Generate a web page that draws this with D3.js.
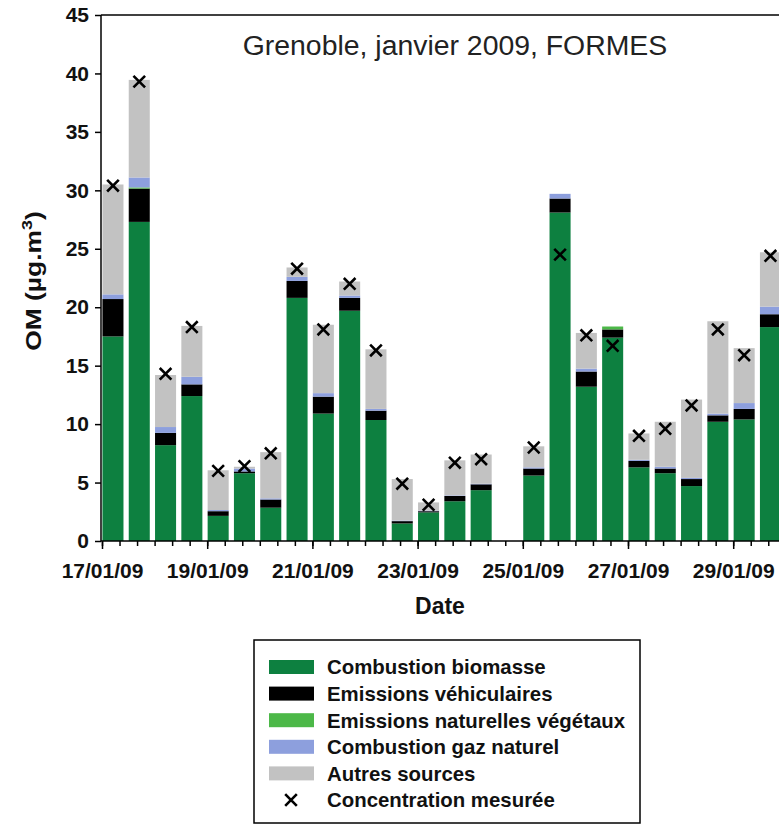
<!DOCTYPE html>
<html>
<head>
<meta charset="utf-8">
<script src="https://cdn.jsdelivr.net/npm/d3@7"></script>
<style>
  html, body { margin: 0; padding: 0; background: #fff; }
  svg { display: block; font-family: "Liberation Sans", Arial, sans-serif; }
  svg text { font-family: "Liberation Sans", Arial, sans-serif; }
</style>
</head>
<body>
<svg id="chart" width="779" height="825"></svg>
<script>
// ---- data (OM, µg.m-3), one sample every 12 h starting 17/01/09 ~05:00 ----
const sampleStart = Date.UTC(2009, 0, 17, 5);
const sampleCount = 26;
const biomasse = [17.5, 27.3, 8.2, 12.4, 2.15, 5.8, 2.85, 20.8, 10.9, 19.7, 10.35, 1.5, 2.45, 3.4, 4.35, null, 5.6, 28.1, 13.2, 17.4, 6.3, 5.8, 4.7, 10.2, 10.4, 18.3];
const vehiculaires = [3.2, 2.85, 1.05, 1.0, 0.4, 0.15, 0.7, 1.45, 1.45, 1.1, 0.8, 0.2, 0.1, 0.45, 0.5, null, 0.6, 1.2, 1.3, 0.7, 0.55, 0.4, 0.6, 0.55, 0.9, 1.1];
const vegetaux = [0, 0.1, 0, 0, 0, 0, 0, 0, 0, 0, 0, 0, 0, 0, 0, null, 0, 0, 0, 0.25, 0, 0, 0, 0, 0, 0];
const gazNaturel = [0.4, 0.85, 0.5, 0.65, 0.1, 0.25, 0.1, 0.35, 0.3, 0.2, 0.15, 0.05, 0.05, 0.05, 0.05, null, 0.1, 0.4, 0.25, 0, 0.1, 0.15, 0.1, 0.15, 0.5, 0.65];
const autres = [9.4, 8.35, 4.45, 4.35, 3.4, 0.15, 3.95, 0.8, 5.85, 1.2, 5.1, 3.55, 0.7, 3.0, 2.5, null, 1.8, 0, 3.05, 0, 2.25, 3.85, 6.7, 7.9, 4.7, 4.65];
const mesuree = [30.4, 39.3, 14.3, 18.3, 6.0, 6.4, 7.5, 23.3, 18.1, 22.0, 16.3, 4.9, 3.1, 6.7, 7.0, null, 8.0, 24.5, 17.6, 16.7, 9.0, 9.6, 11.6, 18.1, 15.9, 24.4];

const seriesNames = ["Combustion biomasse", "Emissions véhiculaires", "Emissions naturelles végétaux", "Combustion gaz naturel", "Autres sources"];
const seriesColors = ["#0d8040", "#000000", "#4cb848", "#8d9fdd", "#c2c2c2"];
const markerName = "Concentration mesurée";
const yTicks = [0, 5, 10, 15, 20, 25, 30, 35, 40, 45];
const xTickDays = [17, 19, 21, 23, 25, 27, 29];
const title = "Grenoble, janvier 2009, FORMES";
const xTitle = "Date";

// ---- build table ----
const HOUR = 3600 * 1000;
const seriesArrays = [biomasse, vehiculaires, vegetaux, gazNaturel, autres];
const rows = d3.range(sampleCount).map(i => {
  const r = { t: new Date(sampleStart + i * 12 * HOUR), i };
  seriesArrays.forEach((a, k) => r["s" + k] = a[i] == null ? 0 : a[i]);
  r.valid = biomasse[i] != null;
  r.m = mesuree[i];
  return r;
});

const FONT = "'Liberation Sans', Arial, sans-serif";
const svg = d3.select("#chart");
const x0 = 102, y0 = 541, yTop = 15;
const dayPx = 52.6;
const x = d3.scaleUtc()
  .domain([new Date(Date.UTC(2009, 0, 17)), new Date(Date.UTC(2009, 0, 31))])
  .range([x0, x0 + 14 * dayPx]);
const y = d3.scaleLinear().domain([0, 45]).range([y0, yTop]);
const barW = (x(new Date(sampleStart + 12 * HOUR)) - x(new Date(sampleStart))) * 0.8;

// stacked bars
const stack = d3.stack().keys(seriesArrays.map((_, k) => "s" + k));
const stacked = stack(rows.filter(r => r.valid));
svg.append("g").selectAll("g").data(stacked).join("g")
  .attr("fill", (d, k) => seriesColors[k])
  .selectAll("rect").data(d => d).join("rect")
  .attr("x", d => x(d.data.t) - barW / 2)
  .attr("width", barW)
  .attr("y", d => y(d[1]))
  .attr("height", d => Math.max(0, y(d[0]) - y(d[1])));

// frame: top line
svg.append("line").attr("x1", x0 - 1).attr("x2", 779).attr("y1", yTop).attr("y2", yTop)
  .attr("stroke", "#000").attr("stroke-width", 1.5);

// y axis
const yAxis = svg.append("g").attr("transform", `translate(${x0 - 1},0)`)
  .call(d3.axisLeft(y).tickValues(yTicks).tickSize(6).tickPadding(6));
yAxis.select(".domain").attr("stroke-width", 1.5).attr("d", `M0,${y0}V${yTop}`);
yAxis.selectAll(".tick line").attr("stroke-width", 1.5);
yAxis.selectAll("text").attr("font-size", 21).attr("font-weight", "bold")
  .attr("font-family", FONT).attr("fill", "#111");

// x axis: minor ticks every 8 h, major every 2 days
const xAxisMinor = svg.append("g").attr("transform", `translate(0,${y0})`)
  .call(d3.axisBottom(x).ticks(d3.utcHour.every(8)).tickSize(5).tickFormat(""));
xAxisMinor.select(".domain").attr("stroke-width", 1.5).attr("d", `M${x0 - 1},0H800`);
xAxisMinor.selectAll(".tick line").attr("stroke-width", 1.5);
const xAxisMajor = svg.append("g").attr("transform", `translate(0,${y0})`)
  .call(d3.axisBottom(x).tickValues(xTickDays.map(d => new Date(Date.UTC(2009, 0, d))))
    .tickSize(8).tickPadding(14).tickFormat(d3.utcFormat("%d/%m/%y")));
xAxisMajor.select(".domain").remove();
xAxisMajor.selectAll(".tick line").attr("stroke-width", 1.5);
xAxisMajor.selectAll("text").attr("font-size", 21).attr("font-weight", "bold")
  .attr("font-family", FONT).attr("fill", "#111");

// measured concentration markers
const xSym = d3.symbolX || d3.symbolCross;
svg.append("g").selectAll("path").data(rows.filter(r => r.m != null)).join("path")
  .attr("transform", d => `translate(${x(d.t)},${y(d.m)})` + (d3.symbolX ? "" : " rotate(45)"))
  .attr("d", d3.symbol(xSym, 90))
  .attr("fill", "none").attr("stroke", "#000").attr("stroke-width", 2.6);

// title
svg.append("text").attr("x", 455).attr("y", 55).attr("text-anchor", "middle")
  .attr("font-family", FONT).attr("font-size", 28.4).attr("fill", "#222").text(title);

// axis titles
svg.append("text").attr("x", 440).attr("y", 614).attr("text-anchor", "middle")
  .attr("font-family", FONT).attr("font-size", 23).attr("font-weight", "bold").attr("fill", "#111").text(xTitle);
const yl = svg.append("text").attr("transform", "translate(41,281) rotate(-90) scale(1.2,1)")
  .attr("text-anchor", "middle").attr("font-family", FONT)
  .attr("font-size", 22).attr("font-weight", "bold").attr("fill", "#111");
yl.append("tspan").text("OM (µg.m");
yl.append("tspan").attr("dy", -9).attr("font-size", 15).text("3");
yl.append("tspan").attr("dy", 9).text(")");

// legend
const lg = svg.append("g");
lg.append("rect").attr("x", 254).attr("y", 640).attr("width", 386).attr("height", 183)
  .attr("fill", "#fff").attr("stroke", "#000").attr("stroke-width", 1.5);
const rowH = 26.6, ly0 = 667;
seriesNames.forEach((n, k) => {
  lg.append("rect").attr("x", 269).attr("y", ly0 + k * rowH - 7).attr("width", 45).attr("height", 14)
    .attr("fill", seriesColors[k]);
  lg.append("text").attr("x", 327).attr("y", ly0 + k * rowH).attr("dy", "0.36em")
    .attr("font-family", FONT).attr("font-size", 20.4).attr("font-weight", "bold").attr("fill", "#111").text(n);
});
lg.append("path").attr("transform", `translate(291,${ly0 + 5 * rowH})` + (d3.symbolX ? "" : " rotate(45)"))
  .attr("d", d3.symbol(xSym, 90)).attr("fill", "none").attr("stroke", "#000").attr("stroke-width", 2.6);
lg.append("text").attr("x", 327).attr("y", ly0 + 5 * rowH).attr("dy", "0.36em")
  .attr("font-family", FONT).attr("font-size", 20.4).attr("font-weight", "bold").attr("fill", "#111").text(markerName);
</script>
</body>
</html>
